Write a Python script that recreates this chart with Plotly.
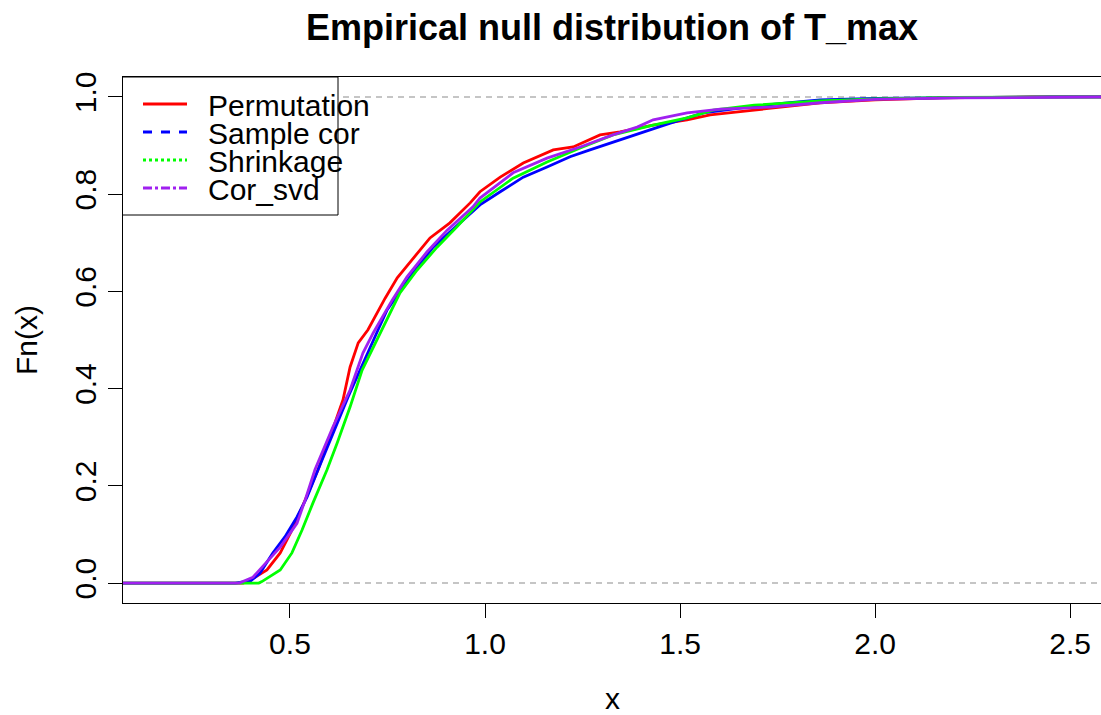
import plotly.graph_objects as go

# ---- data ----
series_names = ["Permutation", "Sample cor", "Shrinkage", "Cor_svd"]

perm_x = [0.0, 0.38, 0.398, 0.441, 0.475, 0.505, 0.531, 0.572, 0.615, 0.636, 0.654, 0.675, 0.700,
          0.744, 0.775, 0.808, 0.859, 0.910, 0.962, 0.987, 1.039, 1.098, 1.175, 1.226, 1.295, 1.346,
          1.431, 1.518, 1.577, 1.69, 1.8, 1.859, 2.0, 2.17, 2.4, 2.7]
perm_y = [0, 0, 0.006, 0.027, 0.062, 0.109, 0.156, 0.233, 0.329, 0.377, 0.444, 0.494, 0.521,
          0.586, 0.628, 0.661, 0.710, 0.741, 0.782, 0.805, 0.835, 0.864, 0.891, 0.897, 0.922, 0.928,
          0.942, 0.953, 0.963, 0.973, 0.983, 0.988, 0.994, 0.998, 1.0, 1.0]

samp_x = [0.0, 0.36, 0.40, 0.423, 0.456, 0.487, 0.518, 0.544, 0.572, 0.649, 0.726, 0.749, 0.808,
          0.867, 0.936, 0.987, 1.039, 1.098, 1.159, 1.218, 1.269, 1.328, 1.398, 1.475, 1.56, 1.672,
          1.775, 1.859, 2.0, 2.2, 2.45, 2.7]
samp_y = [0, 0, 0.005, 0.02, 0.062, 0.095, 0.136, 0.177, 0.233, 0.383, 0.521, 0.562, 0.630,
          0.691, 0.741, 0.778, 0.805, 0.835, 0.856, 0.877, 0.891, 0.907, 0.926, 0.946, 0.967, 0.979,
          0.988, 0.994, 0.997, 0.999, 1.0, 1.0]

shr_x = [0.0, 0.42, 0.428, 0.475, 0.505, 0.531, 0.559, 0.595, 0.621, 0.654, 0.685, 0.71, 0.736,
         0.782, 0.826, 0.877, 0.928, 0.987, 1.072, 1.159, 1.244, 1.328, 1.431, 1.518, 1.585, 1.69,
         1.859, 2.0, 2.2, 2.45, 2.7]
shr_y = [0, 0, 0.003, 0.027, 0.062, 0.109, 0.165, 0.233, 0.288, 0.362, 0.438, 0.479, 0.521,
         0.597, 0.644, 0.691, 0.733, 0.784, 0.833, 0.866, 0.895, 0.922, 0.942, 0.957, 0.973, 0.983,
         0.992, 0.996, 0.999, 1.0, 1.0]

svd_x = [0.0, 0.37, 0.405, 0.475, 0.518, 0.539, 0.564, 0.61, 0.654, 0.687, 0.713, 0.762, 0.8,
         0.851, 0.903, 0.969, 0.987, 1.072, 1.159, 1.244, 1.328, 1.39, 1.431, 1.518, 1.603, 1.73,
         1.859, 2.0, 2.2, 2.45, 2.7]
svd_y = [0, 0, 0.012, 0.074, 0.123, 0.171, 0.233, 0.321, 0.397, 0.473, 0.514, 0.582, 0.630,
         0.681, 0.726, 0.774, 0.792, 0.844, 0.874, 0.897, 0.922, 0.938, 0.953, 0.967, 0.975, 0.979,
         0.988, 0.995, 0.998, 1.0, 1.0]

x_ticks = [0.5, 1.0, 1.5, 2.0, 2.5]
x_tick_labels = ["0.5", "1.0", "1.5", "2.0", "2.5"]
y_ticks = [0.0, 0.2, 0.4, 0.6, 0.8, 1.0]
y_tick_labels = ["0.0", "0.2", "0.4", "0.6", "0.8", "1.0"]

colors = ["#FF0000", "#0000FF", "#00FF00", "#A020F0"]
legend_dash = ["solid", "dash", "dot", "dashdot"]

FONT = "Liberation Sans, Arial, Helvetica, sans-serif"

fig = go.Figure()
for name, xs, ys, c in zip(series_names, [perm_x, samp_x, shr_x, svd_x],
                           [perm_y, samp_y, shr_y, svd_y], colors):
    fig.add_trace(go.Scatter(x=xs, y=ys, mode="lines", name=name,
                             line=dict(color=c, width=2.8), showlegend=False))

shapes = []
# grey dashed reference lines at 0 and 1
for yv in [0, 1]:
    shapes.append(dict(type="line", xref="paper", yref="y", x0=0, x1=1, y0=yv, y1=yv,
                       line=dict(color="#B3B3B3", width=1.5, dash="6px,5px"), layer="below"))

# manual legend (R style)
W, H = 978.0, 526.0
def px_x(p):
    return (p - 123) / W
def px_y(p):
    return (603 - p) / H

shapes.append(dict(type="rect", xref="paper", yref="paper",
                   x0=px_x(122.5), x1=px_x(338), y0=px_y(215), y1=px_y(77),
                   fillcolor="white", line=dict(color="black", width=1), layer="above"))
rows = [104, 132, 160, 188]
annotations = []
for name, c, d, r in zip(series_names, colors, legend_dash, rows):
    shapes.append(dict(type="line", xref="paper", yref="paper",
                       x0=px_x(143), x1=px_x(187), y0=px_y(r), y1=px_y(r),
                       line=dict(color=c, width=2.8, dash=d), layer="above"))
    annotations.append(dict(text=name, xref="paper", yref="paper", x=px_x(206), y=px_y(r + 1),
                            xanchor="left", yanchor="middle", showarrow=False,
                            font=dict(family=FONT, size=30, color="black")))

# axis titles
annotations.append(dict(text="x", xref="paper", yref="paper", x=0.5, y=px_y(698),
                        xanchor="center", yanchor="middle", showarrow=False,
                        font=dict(family=FONT, size=30, color="black")))
annotations.append(dict(text="Fn(x)", xref="paper", yref="paper", x=px_x(26), y=0.5,
                        xanchor="center", yanchor="middle", showarrow=False, textangle=-90,
                        font=dict(family=FONT, size=30, color="black")))

fig.update_layout(
    width=1101, height=715,
    margin=dict(l=123, r=0, t=77, b=112),
    paper_bgcolor="white", plot_bgcolor="white",
    font=dict(family=FONT, size=30, color="black"),
    title=dict(text="<b>Empirical null distribution of T_max</b>", x=0.5, xref="paper",
               y=1 - 27 / 715, yref="container", xanchor="center", yanchor="middle",
               font=dict(family=FONT, size=36, color="black")),
    shapes=shapes, annotations=annotations,
    showlegend=False,
)
fig.update_xaxes(range=[0.072, 2.579], tickvals=x_ticks, ticktext=x_tick_labels,
                 ticks="outside", ticklen=14, tickwidth=1, tickcolor="black",
                 showline=True, linecolor="black", linewidth=1, mirror=True,
                 showgrid=False, zeroline=False, tickfont=dict(size=30))
fig.update_yaxes(range=[-0.041, 1.041], tickvals=y_ticks, ticktext=y_tick_labels,
                 ticks="outside", ticklen=14, tickwidth=1, tickcolor="black", tickangle=-90,
                 showline=True, linecolor="black", linewidth=1, mirror=True,
                 showgrid=False, zeroline=False, tickfont=dict(size=30))

fig.write_html("out.html")
